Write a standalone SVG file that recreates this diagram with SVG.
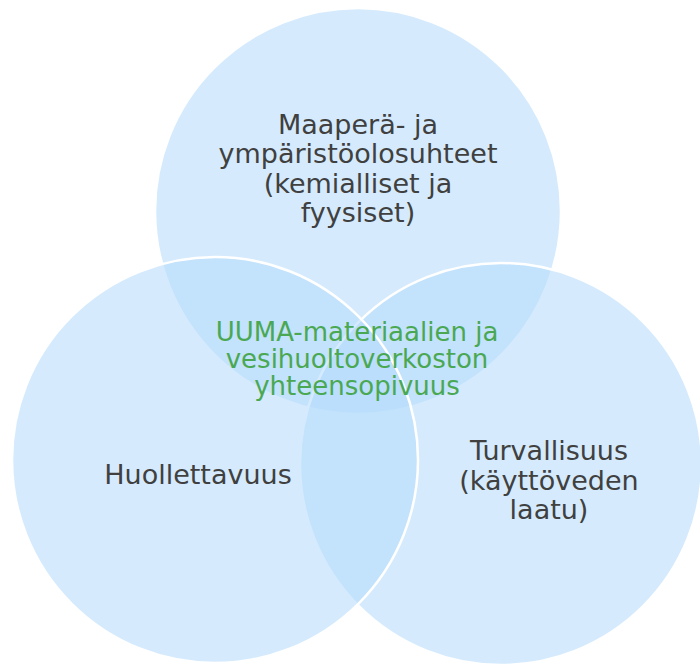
<svg xmlns="http://www.w3.org/2000/svg" width="700" height="666" viewBox="0 0 700 666">
<style>
.c{fill:#b5dcfb;fill-opacity:0.57;stroke:#ffffff;stroke-width:2.5}
.t{font-family:"DejaVu Sans",Verdana,sans-serif;font-size:27px;fill:#404040;text-anchor:middle}
.g{font-family:"DejaVu Sans",Verdana,sans-serif;font-size:26px;fill:#4aa853;text-anchor:middle}
</style>
<rect width="700" height="666" fill="#ffffff"/>
<g id="top">
<circle class="c" cx="358" cy="211" r="203"/>
</g>
<g id="right">
<circle class="c" cx="501" cy="464" r="201"/>
</g>
<g id="left">
<circle class="c" cx="215" cy="460" r="203"/>
</g>
<g id="connectors"></g>
<g id="label-top">
<text class="t" x="358" y="134">Maaperä- ja</text>
<text class="t" x="358" y="163">ympäristöolosuhteet</text>
<text class="t" x="358" y="193">(kemialliset ja</text>
<text class="t" x="358" y="222">fyysiset)</text>
</g>
<g id="label-left">
<text class="t" x="198" y="484">Huollettavuus</text>
</g>
<g id="label-right">
<text class="t" x="549" y="460">Turvallisuus</text>
<text class="t" x="549" y="490">(käyttöveden</text>
<text class="t" x="549" y="519">laatu)</text>
</g>
<g id="label-center">
<text class="g" x="357" y="341">UUMA-materiaalien ja</text>
<text class="g" x="357" y="368">vesihuoltoverkoston</text>
<text class="g" x="357" y="395">yhteensopivuus</text>
</g>
</svg>
